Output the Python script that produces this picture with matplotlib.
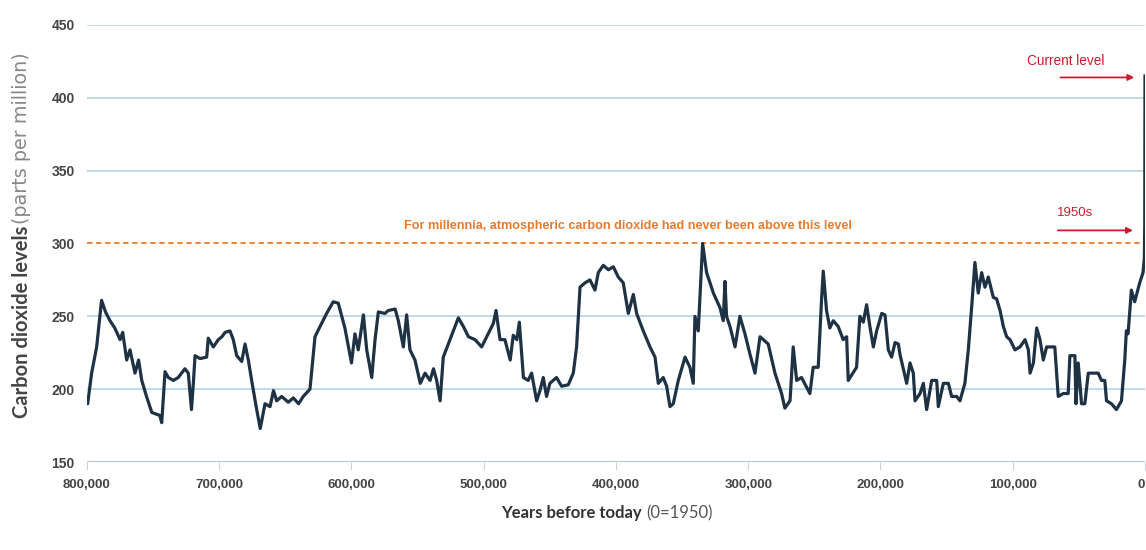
import matplotlib
matplotlib.use('Agg')
import matplotlib.pyplot as plt
from matplotlib.ticker import FuncFormatter

# CO2 record: thousands of years before 1950, ppm
years_k = [800, 799.5, 796.5, 792.7, 789, 786, 782.6, 779, 775, 773, 770, 767.5, 763.7, 761, 758.6,
           755, 751, 745, 743.5, 741, 738.5, 734.7, 731, 726, 723.4, 721, 719.6, 718.3, 714.6, 709.5,
           708.3, 704.5, 700.7, 698, 695.6, 691.9, 689.4, 686.8, 683, 680.5, 678, 675.5, 671.7, 669,
           665.4, 661.6, 659, 656.6, 652.8, 647.8, 644, 640, 636.5, 631.4, 627.6, 623.8, 618.8, 613.8,
           610, 605, 600, 597.4, 594.9, 592.3, 591, 588.5, 584.7, 582.2, 579.7, 574.7, 572.2, 567,
           564.6, 560.8, 558.3, 555.8, 552, 548, 544.4, 540.6, 538, 535.6, 533, 530.6, 525.5, 519.2,
           515.4, 511.6, 506.6, 501.6, 496.6, 492.8, 490.7, 487.7, 484, 480, 477.7, 475, 473.1, 470,
           466.4, 463.8, 460, 457.5, 455, 452.5, 450, 445, 441.1, 436.1, 432.3, 429.8, 427.2, 423.4,
           419.7, 415.9, 413.4, 409.6, 405.8, 402, 398.3, 394.5, 390.7, 386.9, 384.4, 379.4, 374.3,
           370.5, 368, 364.3, 361.7, 359.2, 356.7, 352.9, 347.8, 344.1, 341.6, 340.3, 337.8, 334.5,
           331.5, 328.9, 326.4, 321.4, 318.9, 317.6, 316.4, 313.8, 310, 306.3, 302.5, 298.7, 294.9,
           291.1, 284.9, 279.8, 274.8, 272.3, 268.4, 266, 263.4, 259.7, 253.4, 250.9, 247.1, 244.6,
           243.3, 240.8, 238.3, 235.7, 232, 228.2, 225.6, 224.4, 218.1, 215.6, 213, 210.5, 208, 205.4,
           202.9, 199.1, 196.6, 194.1, 191.6, 189, 186.5, 185.3, 180.2, 177.7, 175.2, 173.9, 170.1,
           167.6, 165.1, 161.3, 157.5, 156.3, 152.5, 148.7, 146.2, 142.4, 139.9, 136.2, 133.6, 131.1,
           128.6, 126.1, 123.5, 121, 118.5, 114.7, 112.2, 109.6, 107.1, 104.6, 102.1, 98.3, 94.5,
           90.7, 88.2, 86.9, 84.4, 81.9, 79.4, 76.9, 74.4, 68.2, 65.6, 61.8, 58.1, 56.8, 53, 52.2,
           50.5, 48, 45.5, 42.9, 35.4, 32.9, 30.4, 29.1, 25.4, 21.6, 17.8, 15.3, 14.1, 12.8, 10.3,
           7.8, 4, 1.5, 0.5, 0.2, 0]
co2_ppm = [192, 190, 211, 229, 261, 253, 247, 242, 234, 239, 220, 227, 211, 220, 206,
           195, 184, 182, 177, 212, 208, 206, 208, 214, 211, 186, 204, 223, 221, 222,
           235, 229, 234, 236, 239, 240, 234, 223, 219, 231, 220, 206, 186, 173,
           190, 188, 199, 192, 195, 191, 194, 190, 195, 200, 236, 243, 252, 260,
           259, 242, 218, 238, 227, 243, 251, 227, 208, 234, 253, 252, 254, 255,
           247, 229, 251, 227, 220, 204, 211, 206, 214, 206, 192, 222, 234, 249,
           243, 236, 234, 229, 238, 245, 254, 234, 234, 220, 237, 234, 246, 208,
           206, 211, 192, 199, 208, 195, 204, 208, 202, 203, 211, 229, 270, 273,
           275, 268, 280, 285, 282, 284, 277, 273, 252, 265, 252, 240, 229,
           222, 204, 208, 202, 188, 190, 206, 222, 215, 204, 250, 240, 300,
           280, 273, 266, 256, 247, 274, 250, 243, 229, 250, 238, 224, 211,
           236, 231, 211, 197, 187, 192, 229, 206, 208, 197, 215, 215, 261,
           281, 254, 242, 247, 243, 234, 236, 206, 215, 250, 246, 258, 243, 229,
           240, 252, 251, 227, 222, 232, 231, 224, 204, 218, 211, 192, 197,
           204, 186, 206, 206, 188, 204, 204, 195, 195, 192, 204, 227, 256,
           287, 266, 280, 270, 277, 263, 262, 254, 243, 236, 234, 227, 229,
           234, 227, 211, 218, 242, 234, 220, 229, 229, 195, 197, 197, 223, 223, 190,
           218, 190, 190, 211, 211, 206, 206, 192, 190, 186, 192, 220, 240, 238, 268,
           260, 273, 280, 290, 312, 415]

x_ticks = [800000, 700000, 600000, 500000, 400000, 300000, 200000, 100000, 0]
y_ticks = [150, 200, 250, 300, 350, 400, 450]
threshold = 300
current_level = 414
level_1950s = 309

years = [y * 1000 for y in years_k]

navy = '#1e3244'
orange = '#ea7a2a'
red = '#d0192e'
grid_blue = '#b9d8e6'
narrow = ['Liberation Sans Narrow', 'Liberation Sans', 'DejaVu Sans']

fig = plt.figure(figsize=(11.46, 5.5), dpi=100)
ax = fig.add_axes([87 / 1146, 1 - 462 / 550, 1058 / 1146, 437 / 550])

for lvl in y_ticks:
    if lvl == threshold:
        continue
    ax.axhline(lvl, color=grid_blue if lvl != 150 else '#a9bfca', lw=1.3, zorder=1)

ax.axhline(threshold, color=orange, lw=1.3, ls=(0, (3, 2)), zorder=2)
ax.plot(years, co2_ppm, color=navy, lw=2.3, zorder=3)

ax.set_xlim(800000, 0)
ax.set_ylim(150, 450)
ax.set_xticks(x_ticks)
ax.set_yticks(y_ticks)
ax.xaxis.set_major_formatter(FuncFormatter(lambda v, p: '{:,}'.format(int(v))))
for s in ax.spines.values():
    s.set_visible(False)
ax.tick_params(axis='y', length=0, pad=9, labelsize=10, labelcolor='#444444')
ax.tick_params(axis='x', length=6, width=0.8, color='#c8d4da', pad=6, labelsize=9.5,
               labelcolor='#444444')
for lab in ax.get_xticklabels() + ax.get_yticklabels():
    lab.set_fontweight('bold')
    lab.set_family(narrow)
# last label sits on the right edge; keep it inside the figure
ax.get_xticklabels()[-1].set_horizontalalignment('right')

ax.text(391000, 312, 'For millennia, atmospheric carbon dioxide had never been above this level',
        color=orange, fontsize=9.1, fontweight='bold', ha='center', va='center', family=narrow)

ax.annotate('', xy=(6000, current_level), xytext=(66000, current_level),
            arrowprops=dict(arrowstyle='-|>', color=red, lw=1.3, mutation_scale=9))
ax.text(60000, 425, 'Current level', color=red, fontsize=9.8, ha='center', va='center', family=narrow)
ax.annotate('', xy=(7000, level_1950s), xytext=(68000, level_1950s),
            arrowprops=dict(arrowstyle='-|>', color=red, lw=1.3, mutation_scale=9))
ax.text(53000, 321, '1950s', color=red, fontsize=9.5, ha='center', va='center', family=narrow)

fig.text(22 / 1146, 1 - 418 / 550, 'Carbon dioxide levels', rotation=90, ha='center', va='bottom',
         fontsize=14.5, fontweight='bold', color='#444444', family='Lato')
fig.text(22 / 1146, 1 - 224 / 550, '(parts per million)', rotation=90, ha='center', va='bottom',
         fontsize=13.8, color='#888888', family='DejaVu Sans')

fig.text(642 / 1146, 1 - 513 / 550, 'Years before today', ha='right', va='center',
         fontsize=12, fontweight='bold', color='#333333', family='Lato')
fig.text(646 / 1146, 1 - 513 / 550, '(0=1950)', ha='left', va='center',
         fontsize=12, color='#555555', family='Lato')

fig.savefig('out.png', dpi=100, facecolor='white')
